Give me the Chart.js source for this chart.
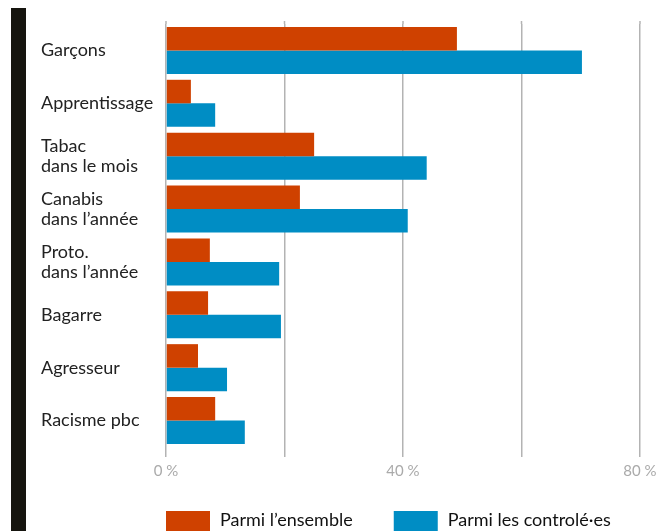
<!DOCTYPE html>
<html>
<head>
<meta charset="utf-8">
<script src="https://cdn.jsdelivr.net/npm/chart.js@4/dist/chart.umd.min.js"></script>
<style>
  html, body { margin: 0; padding: 0; background: #fff; overflow: hidden; }
  #wrap { position: relative; width: 665px; height: 531px; overflow: hidden; }
  #bar { position: absolute; left: 11px; top: 8px; width: 15px; height: 530px; background: #16150f; }
  #c { position: absolute; left: 0; top: 0; }
</style>
</head>
<body>
<div id="wrap">
  <div id="bar"></div>
  <canvas id="c" width="665" height="531"></canvas>
</div>
<script>
const categories = [
  ["Garçons"],
  ["Apprentissage"],
  ["Tabac", "dans le mois"],
  ["Canabis", "dans l’année"],
  ["Proto.", "dans l’année"],
  ["Bagarre"],
  ["Agresseur"],
  ["Racisme pbc"]
];
const ensemble = [49.1, 4.2, 25.0, 22.6, 7.4, 7.1, 5.4, 8.3];
const controles = [70.2, 8.3, 44.0, 40.8, 19.1, 19.4, 10.3, 13.3];
const seriesNames = ["Parmi l’ensemble", "Parmi les controlé·es"];
const xTicks = [0, 20, 40, 60, 80];
const xTickLabels = ["0 %", "", "40 %", "", "80 %"];

const FONT = "Lato, 'Noto Sans', sans-serif";

// custom legend drawn at the bottom, starting at the plot's left edge
const bottomLegend = {
  id: 'bottomLegend',
  afterDraw(chart) {
    const ctx = chart.ctx;
    const left = chart.chartArea.left;
    const boxW = 44, boxH = 24, boxTop = 511, gapText = 10, gapItem = 41;
    let x = left;
    ctx.save();
    ctx.font = "18px " + FONT;
    ctx.textBaseline = 'middle';
    ctx.textAlign = 'left';
    chart.data.datasets.forEach((ds) => {
      ctx.fillStyle = ds.backgroundColor;
      ctx.fillRect(x, boxTop, boxW, boxH);
      x += boxW + gapText;
      ctx.fillStyle = '#111111';
      ctx.fillText(ds.label, x, 520);
      x += ctx.measureText(ds.label).width + gapItem;
    });
    ctx.restore();
  }
};

// extend vertical grid lines slightly above the plot area, as in the original
const gridTop = {
  id: 'gridTop',
  beforeDatasetsDraw(chart) {
    const ctx = chart.ctx;
    const xs = chart.scales.x;
    ctx.save();
    ctx.strokeStyle = '#b3b3b3';
    ctx.lineWidth = 1.5;
    xs.ticks.forEach(t => {
      const px = xs.getPixelForValue(t.value);
      ctx.beginPath();
      ctx.moveTo(px, chart.chartArea.top - 3);
      ctx.lineTo(px, chart.chartArea.top);
      ctx.stroke();
    });
    ctx.restore();
  }
};

new Chart(document.getElementById('c'), {
  type: 'bar',
  data: {
    labels: categories,
    datasets: [
      { label: seriesNames[0], data: ensemble, backgroundColor: '#cf4100', borderWidth: 0 },
      { label: seriesNames[1], data: controles, backgroundColor: '#008dc4', borderWidth: 0 }
    ]
  },
  plugins: [bottomLegend, gridTop],
  options: {
    indexAxis: 'y',
    responsive: false,
    animation: false,
    devicePixelRatio: 1,
    categoryPercentage: 0.89,
    barPercentage: 1.0,
    layout: { padding: { left: 41, right: 25, top: 24, bottom: 0 } },
    scales: {
      x: {
        min: 0, max: 80,
        afterBuildTicks: (s) => { s.ticks = xTicks.map(v => ({ value: v })); },
        afterFit: (s) => { s.height = 84; },
        grid: { color: '#b3b3b3', lineWidth: 1.5, tickLength: 10, drawTicks: true },
        border: { display: false },
        ticks: {
          autoSkip: false,
          maxRotation: 0,
          padding: 5,
          color: '#aaaaaa',
          font: { family: FONT, size: 15 },
          callback: (v, i) => xTickLabels[i]
        }
      },
      y: {
        grid: { display: false },
        border: { display: false },
        afterFit: (s) => { s.width = 125; },
        ticks: {
          crossAlign: 'far',
          padding: 0,
          color: '#222222',
          font: { family: FONT, size: 18, lineHeight: 1.12 }
        }
      }
    },
    plugins: {
      legend: { display: false },
      tooltip: { enabled: false }
    }
  }
});
</script>
</body>
</html>
